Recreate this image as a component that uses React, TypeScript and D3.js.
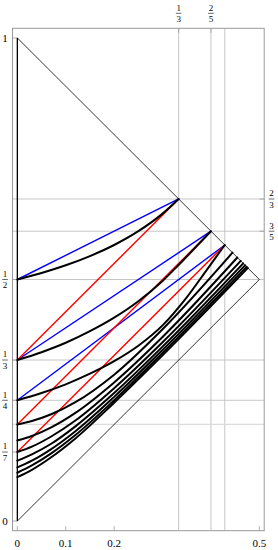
import React from 'react';
import * as d3 from 'd3';

const W = 278;
const H = 550;

const xDomain = [-0.01, 0.51];
const yDomain = [-0.02, 1.02];

const bottomTicks = [0, 0.1, 0.2, 0.5];
const bottomTickLabels = ['0', '0.1', '0.2', '0.5'];
const leftPlainTicks = [0, 1];
const leftPlainLabels = ['0', '1'];
const leftFracTicks = [[1, 2], [1, 3], [1, 4], [1, 7]];
const topFracTicks = [[1, 3], [2, 5]];
const rightFracTicks = [[2, 3], [3, 5]];

const vGrid = [1 / 3, 2 / 5, 3 / 7];
const hGrid = [2 / 3, 3 / 5, 1 / 2, 1 / 3, 1 / 4];
const hGridLight = [1 / 5];

const triangle = [[0, 1], [0.5, 0.5], [0, 0]];
const axisLine = [[0, 0], [0, 1]];

const blueLines = [
  [[0, 1 / 2], [1 / 3, 2 / 3]],
  [[0, 1 / 3], [2 / 5, 3 / 5]],
  [[0, 1 / 4], [3 / 7, 4 / 7]],
];
const redLines = [
  [[0, 1 / 3], [1 / 3, 2 / 3]],
  [[0, 1 / 5], [2 / 5, 3 / 5]],
  [[0, 1 / 7], [3 / 7, 4 / 7]],
];

const curve1 = [[0, 0.5], [0.05, 0.5135], [0.1, 0.5294], [0.15, 0.5484], [0.2, 0.5714], [0.25, 0.6], [0.3, 0.6364], [1 / 3, 2 / 3]];
const curve2 = [[0, 1 / 3], [0.05, 0.3495], [0.1, 0.369], [0.15, 0.393], [0.2, 0.421], [0.25, 0.455], [0.3, 0.497], [0.333, 0.53], [0.36, 0.558], [0.4, 0.6]];
const curve3 = [[0, 0.25], [0.05, 0.265], [0.1, 0.283], [0.15, 0.305], [0.2, 0.331], [0.25, 0.363], [0.3, 0.405], [0.35, 0.463], [0.39, 0.518], [3 / 7, 4 / 7]];
const curve4 = [[0, 0.2], [0.03, 0.207], [0.07, 0.221], [0.12, 0.246], [0.2, 0.303], [0.3, 0.397], [4 / 9, 5 / 9]];
const curve5 = [[0, 1 / 6], [0.03, 0.176], [0.07, 0.194], [0.12, 0.224], [0.2, 0.287], [0.3, 0.381], [5 / 11, 6 / 11]];
const curve6 = [[0, 1 / 7], [0.03, 0.154], [0.07, 0.175], [0.12, 0.208], [0.2, 0.275], [0.3, 0.37], [6 / 13, 7 / 13]];
const curve7 = [[0, 1 / 8], [0.03, 0.138], [0.07, 0.16], [0.12, 0.196], [0.2, 0.265], [0.3, 0.361], [7 / 15, 8 / 15]];
const curve8 = [[0, 1 / 9], [0.03, 0.125], [0.07, 0.149], [0.12, 0.186], [0.2, 0.257], [0.3, 0.354], [8 / 17, 9 / 17]];
const curve9 = [[0, 1 / 10], [0.03, 0.115], [0.07, 0.14], [0.12, 0.178], [0.2, 0.25], [0.3, 0.348], [9 / 19, 10 / 19]];
const curve10 = [[0, 1 / 11], [0.03, 0.106], [0.07, 0.132], [0.12, 0.171], [0.2, 0.245], [0.3, 0.343], [10 / 21, 11 / 21]];
const blackCurves = [curve1, curve2, curve3, curve4, curve5, curve6, curve7, curve8, curve9, curve10];

const FONT = '"Liberation Serif", "Times New Roman", serif';

function Frac({ x, y, num, den, size = 9 }) {
  return (
    <g>
      <text x={x} y={y - 2.6} fontSize={size} fontFamily={FONT} textAnchor="middle" fill="#000">{num}</text>
      <line x1={x - 2.8} x2={x + 2.8} y1={y} y2={y} stroke="#000" strokeWidth={0.6} />
      <text x={x} y={y + 8.6} fontSize={size} fontFamily={FONT} textAnchor="middle" fill="#000">{den}</text>
    </g>
  );
}

export default function App() {
  const x = d3.scaleLinear().domain(xDomain).range([12.5, 264.2]);
  const y = d3.scaleLinear().domain(yDomain).range([530.7, 28.3]);
  const line = d3.line().x((d) => x(d[0])).y((d) => y(d[1]));
  const smooth = d3.line().x((d) => x(d[0])).y((d) => y(d[1])).curve(d3.curveMonotoneX);

  const [x0, x1] = x.range();
  const [y0, y1] = y.range();
  const tickLen = 4.5;
  const gridColor = '#b8b8b8';
  const frameColor = '#999';

  return (
    <svg width={W} height={H} style={{ position: 'absolute', left: 0, top: 0, background: '#fff' }}>
      <rect x={0} y={0} width={W} height={H} fill="#fff" />
      {vGrid.map((v, i) => (
        <line key={'vg' + i} x1={x(v)} x2={x(v)} y1={y1} y2={y0} stroke={gridColor} strokeWidth={0.8} />
      ))}
      {hGrid.map((v, i) => (
        <line key={'hg' + i} x1={x0} x2={x1} y1={y(v)} y2={y(v)} stroke={gridColor} strokeWidth={0.8} />
      ))}
      {hGridLight.map((v, i) => (
        <line key={'hgl' + i} x1={x0} x2={x1} y1={y(v)} y2={y(v)} stroke="#dcdcdc" strokeWidth={1.4} />
      ))}

      <rect x={x0} y={y1} width={x1 - x0} height={y0 - y1} fill="none" stroke={frameColor} strokeWidth={1} />

      {bottomTicks.map((v, i) => (
        <g key={'bt' + i}>
          <line x1={x(v)} x2={x(v)} y1={y0} y2={y0 - tickLen} stroke={frameColor} strokeWidth={0.8} />
          <text x={x(v)} y={547} fontSize={11} fontFamily={FONT} textAnchor="middle" fill="#000">{bottomTickLabels[i]}</text>
        </g>
      ))}
      {leftPlainTicks.map((v, i) => (
        <g key={'lp' + i}>
          <line x1={x0} x2={x0 + tickLen} y1={y(v)} y2={y(v)} stroke={frameColor} strokeWidth={0.8} />
          <text x={5} y={y(v) + 3.8} fontSize={11} fontFamily={FONT} textAnchor="middle" fill="#000">{leftPlainLabels[i]}</text>
        </g>
      ))}
      {leftFracTicks.map((f, i) => (
        <g key={'lf' + i}>
          <line x1={x0} x2={x0 + tickLen} y1={y(f[0] / f[1])} y2={y(f[0] / f[1])} stroke={frameColor} strokeWidth={0.8} />
          <Frac x={5} y={y(f[0] / f[1])} num={f[0]} den={f[1]} />
        </g>
      ))}
      {topFracTicks.map((f, i) => (
        <g key={'tf' + i}>
          <line x1={x(f[0] / f[1])} x2={x(f[0] / f[1])} y1={y1} y2={y1 + tickLen} stroke={frameColor} strokeWidth={0.8} />
          <Frac x={x(f[0] / f[1])} y={13.3} num={f[0]} den={f[1]} />
        </g>
      ))}
      {rightFracTicks.map((f, i) => (
        <g key={'rf' + i}>
          <line x1={x1} x2={x1 - tickLen} y1={y(f[0] / f[1])} y2={y(f[0] / f[1])} stroke={frameColor} strokeWidth={0.8} />
          <Frac x={271.6} y={y(f[0] / f[1])} num={f[0]} den={f[1]} />
        </g>
      ))}

      <path d={line(triangle)} fill="none" stroke="#000" strokeWidth={0.8} />
      <path d={line(axisLine)} fill="none" stroke="#000" strokeWidth={1.3} />

      {blueLines.map((l, i) => (
        <path key={'bl' + i} d={line(l)} fill="none" stroke="#0000ff" strokeWidth={1.4} />
      ))}
      {redLines.map((l, i) => (
        <path key={'rl' + i} d={line(l)} fill="none" stroke="#ff0000" strokeWidth={1.4} />
      ))}
      {blackCurves.map((c, i) => (
        <path key={'bc' + i} d={smooth(c)} fill="none" stroke="#000" strokeWidth={2} strokeLinecap="round" />
      ))}
    </svg>
  );
}
